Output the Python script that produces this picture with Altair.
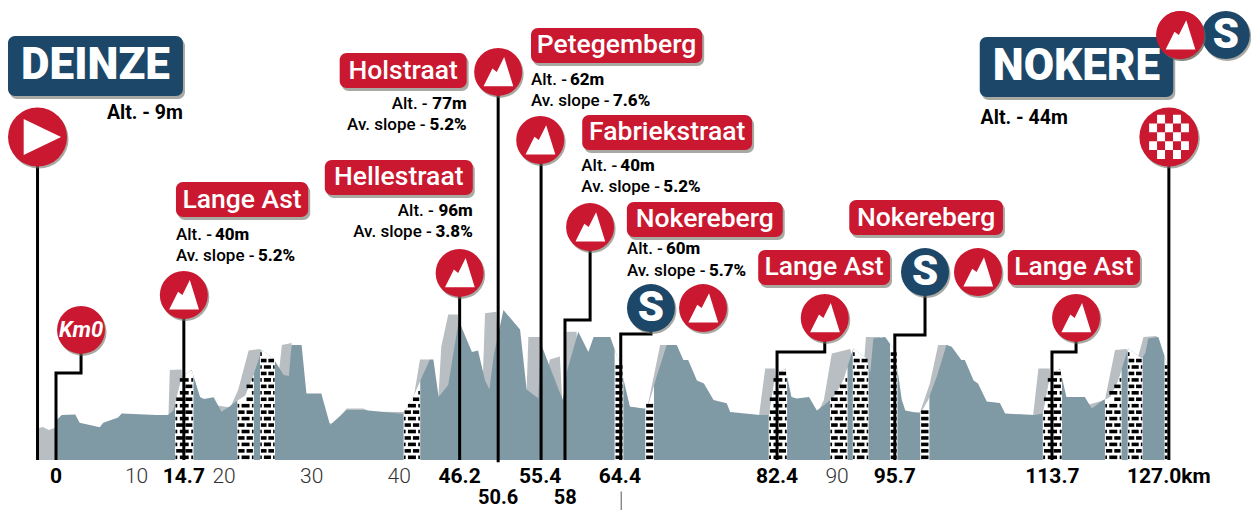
import altair as alt
import numpy as np
import pandas as pd

RED = "#c9182f"
NAVY = "#1c4768"
STEEL = "#7f99a5"
PALE = "#b8bec1"
FONT = "Roboto"

# ---- elevation profile (km, metres)
main_km = [0.08,0.65,2.2,2.7,5.0,5.4,7.1,7.5,11.5,12.8,13.4,14.35,15.5,16.45,16.9,18,18.9,19.9,20.8,21.6,22.5,23.5,24.8,26,26.6,26.9,28.05,28.6,30.3,31.3,33.2,35.1,39.7,41.0,42.7,43.1,43.7,44.8,46,47.5,48.2,49,49.5,50,51.1,53,53.75,55.1,55.35,57.4,57.9,58.4,59.65,60.8,61.4,63.3,64.4,65.55,67.5,68.6,69.75,70.9,71.65,72.2,73.2,74,75.1,76.6,77,80.4,81.4,82.1,83.3,84,84.6,86,86.9,88,88.8,89.9,91.05,92.6,93,93.35,94.7,95.8,96.6,97,98.7,99.6,100.6,101.7,102.3,103.4,103.8,104.8,105.3,106.3,107.8,108.4,111.8,112.7,113.5,114.65,115.4,117.5,118.3,119.6,120.4,121.3,122.45,124,124.4,124.75,125.9,127]
main_alt = [26.7,30,30.4,24.9,21.8,24.9,28.4,31,30,30,33,55.6,60,42,40.7,41.8,32.2,36,40,43,55.6,73.3,67.8,56.7,56,76.7,76.7,44.4,44.4,23.3,33.3,33.3,30.7,45,67,67,42,50,93,72,73,53,47,70,100,87,47,41,78,47,40,60,85.5,72,82,82,64,35.5,34,55.6,76.7,76.7,66.7,66.7,53,51,40,37.8,32,30,30,55.6,61,42,41,42,33,37.8,42,53,74.4,67.8,58,81,82,73,40,33,31,40,55.6,76.7,75.5,66.7,66.7,53,51,39,38,31,30,31,55.6,61,42,42,34.4,40,42,53,74.4,67.8,71,81,82,62.2]
pale_km = [-2.2,-1.5,-0.8,0.1,12.6,12.85,13,14.35,14.5,19.9,20.8,22,23.3,25.4,25.8,26.9,27.1,31.7,33.2,35.1,35.9,39.7,40.8,41.57,42.7,43.1,43.7,44,44.8,45.9,46.3,48.6,49,50.3,50.7,53.75,53.95,55.3,55.5,56.4,57.55,57.9,58.3,59.45,59.8,67.5,69,70.15,70.5,80.3,81,82.1,82.3,86.9,87.7,88.6,90.7,91.8,92.1,92.5,94.1,94.5,98.7,99.8,100.75,101.9,102.1,111.6,112.2,113.5,113.7,119.8,120.95,122.3,123,123.6,124.2,125.7,126.1,127]
pale_alt = [21,22,20,22,22,31,60,60.4,40,35,46.7,73,74,55.6,76.7,78,30,24,34.4,34.4,32.2,32,40,67,67,30,44,75.5,97,97,40,30,97.8,98.9,40,46,82,82,40,67,69,30,85.5,85.5,40,34,76.7,76.7,30,30,61,61,40,30,40,71,74,50,50,82,82,30,32,51,76.7,76.7,30,30,61,61,30,40,73.3,74,40,69,82,82.7,30,30]

# ---- cobbled sectors (km from, km to)
cobble_from = [13.6,20.7,23.3,39.7,63.8,67.3,81.4,88.4,91.0,95.25,98.7,112.7,119.8,122.4,126.6]
cobble_to   = [15.7,22.6,25.0,41.6,64.8,68.3,83.5,90.4,92.8,96.1,99.75,114.9,121.7,124.1,127.0]

# ---- km markers
bold_ticks = ["0","14.7","46.2","55.4","64.4","82.4","95.7","113.7","127.0km"]
bold_km = [0,14.6,46.1,55.3,64.4,82.35,95.8,113.8,127.1]
low_ticks = ["50.6","58"]
low_km = [50.5,58.15]
thin_ticks = ["10","20","30","40","90"]
thin_km = [10,20,30,40,90]

# ---- name plates
plate_names = ["Lange Ast","Holstraat","Petegemberg","Hellestraat","Fabriekstraat","Nokereberg","Lange Ast","Nokereberg","Lange Ast"]
plate_km1 = [13.7,32.4,54.25,30.7,60.1,65.2,80.2,90.6,108.7]
plate_km2 = [28.8,46.9,73.8,47.6,79.5,83,95.25,108.15,123.8]
plate_top = [185.3,271.3,288,200,230,172,140,173.3,140]
plate_bot = [162,248,264.7,176.7,206.7,148.7,116.7,150,116.7]
town_names = ["DEINZE","NOKERE"]
town_km1 = [-5.48,105.5]
town_km2 = [14.5,127.6]
town_top = [282.7,282]
town_bot = [242.7,242]

# ---- climb notes (label, value)
left_alt_values = ["40m","62m","40m","60m"]
left_slope_values = ["5.2%","7.6%","5.2%","5.7%"]
left_km = [13.7,54.25,60,65.2]
left_alt_y = [150,253.3,196,140.7]
left_slope_y = [136,239.3,182,126]
right_alt_values = ["77m","96m"]
right_slope_values = ["5.2%","3.8%"]
right_km = [46.9,47.6]
right_alt_y = [237.3,166]
right_slope_y = [223.3,152]
town_alt_text = ["Alt. - 9m","Alt. - 44m"]
town_alt_km = [5.82,105.6]
town_alt_alt = [231.3,228]

# ---- badges
mount_km = [14.6,46.1,50.5,55.3,61,73.9,87.8,105.3,116.5,128.4]
mount_alt = [110,124.7,258.7,213.3,155.3,101.3,94.7,125.3,94.7,283.3]
sprint_km = [67.95,99.25,133.6]
sprint_alt = [101.3,125.3,283.3]
km0_km = [2.86]
km0_alt = [86.7]
start_km = [-2.11]
start_alt = [215.3]
finish_km = [127.1]
finish_alt = [215.3]

# ---- connectors
connectors = [
    [(-2.11,0),(-2.11,215.3)],
    [(0,0),(0,58),(2.86,58),(2.86,86.7)],
    [(14.6,0),(14.6,110)],
    [(46.1,0),(46.1,124.7)],
    [(50.5,-1.5),(50.5,258.7)],
    [(55.4,0),(55.4,213.3)],
    [(58.13,0),(58.13,93.3),(61,93.3),(61,155.3)],
    [(64.5,0),(64.5,84),(67.95,84),(67.95,101.3)],
    [(82.35,0),(82.35,72),(87.8,72),(87.8,94.7)],
    [(95.8,0),(95.8,83.3),(99.25,83.3),(99.25,125.3)],
    [(113.75,0),(113.75,72),(116.5,72),(116.5,94.7)],
    [(127.1,0),(127.1,215.3)],
]

XS = alt.Scale(domain=[-5.482, 136.48], nice=False, zero=False)
YS = alt.Scale(domain=[-33.33, 301.33], nice=False, zero=False)
xq = alt.X("x:Q", scale=XS, axis=None)
yq = alt.Y("y:Q", scale=YS, axis=None)

def points(xs, ys, **extra):
    d = {"x": list(xs), "y": list(ys)}
    d.update(extra)
    return pd.DataFrame(d)

def area_layer(xs, ys, color):
    df = points(xs, ys)
    return alt.Chart(df).mark_area(fill=color, line=False, interpolate="linear", opacity=1, orient="vertical").encode(x=xq, y=alt.Y("y:Q", scale=YS, axis=None, stack=None))

layers = [area_layer(pale_km, pale_alt, PALE), area_layer(main_km, main_alt, STEEL)]

# cobbled sectors: white strip under the main profile with brick courses
white_rows, brick_rows = [], []
COURSE = 4.3
for s, (a, b) in enumerate(zip(cobble_from, cobble_to)):
    xs = np.linspace(a, b, 14)
    ys = np.interp(xs, main_km, main_alt)
    for x_, y_ in zip(xs, ys):
        white_rows.append({"x": float(x_), "y": float(y_), "s": s})
    w = b - a
    for r in range(0, 20):
        lo, hi = r*COURSE + 0.6, r*COURSE + 3.0
        if w < 1.2:
            spans = [(a+0.1*w, a+0.9*w)]
        elif r % 2 == 0:
            spans = [(a+0.02*w, a+0.12*w), (a+0.26*w, a+0.74*w), (a+0.88*w, a+0.98*w)]
        else:
            spans = [(a+0.06*w, a+0.44*w), (a+0.56*w, a+0.94*w)]
        for p, q in spans:
            if hi <= float(np.interp((p+q)/2, main_km, main_alt)):
                brick_rows.append({"x": p, "x2": q, "y": lo, "y2": hi})
layers.append(alt.Chart(pd.DataFrame(white_rows)).mark_area(fill="white", line=False, opacity=1, orient="vertical").encode(x=xq, y=alt.Y("y:Q", scale=YS, axis=None, stack=None), detail="s:N"))
layers.append(alt.Chart(pd.DataFrame(brick_rows)).mark_rect(color="black").encode(xq, x2="x2:Q", y=yq, y2="y2:Q"))

# connectors
line_rows = []
for c, pts in enumerate(connectors):
    for i, (x_, y_) in enumerate(pts):
        line_rows.append({"x": x_, "y": y_, "c": c, "i": i})
layers.append(alt.Chart(pd.DataFrame(line_rows)).mark_line(color="black", strokeWidth=3, strokeJoin="miter", strokeCap="butt").encode(xq, yq, detail="c:N", order=alt.Order("i:Q")))
layers.append(alt.Chart(points([64.55], [-21], y2=[-33.33])).mark_rule(color="#555555", strokeWidth=1).encode(xq, yq, y2="y2:Q"))

def circles(xs, ys, color, dia):
    df = points(xs, ys)
    size = dia*dia
    return [
        alt.Chart(df).mark_point(filled=True, shape="circle", size=size, color="#6f6f66", opacity=0.6, xOffset=1.5, yOffset=2).encode(xq, yq),
        alt.Chart(df).mark_point(filled=True, shape="circle", size=size, color=color, opacity=1).encode(xq, yq),
    ]

def glyph(xs, ys, path, dia):
    return alt.Chart(points(xs, ys)).mark_point(filled=True, shape=path, size=dia*dia, color="white", opacity=1).encode(xq, yq)

MOUNT = "M-0.61,0.6L-0.24,-0.14L-0.06,0.0L0.25,-0.62L0.63,0.6Z"
ARROW = "M-0.47,-0.61L0.8,0L-0.47,0.61Z"
cells = []
for i in range(5):
    for j in range(5):
        if (i + j) % 2 == 1:
            x0, y0 = -0.67 + j*0.27, -0.76 + i*0.3
            cells.append(f"M{x0:.2f},{y0:.2f}h0.27v0.3h-0.27Z")
CHECK = "".join(cells)

layers += circles(km0_km, km0_alt, RED, 48)
layers += circles(mount_km, mount_alt, RED, 48)
layers += circles(sprint_km, sprint_alt, NAVY, 48)
layers += circles(start_km, start_alt, RED, 59)
layers += circles(finish_km, finish_alt, RED, 59)
layers.append(glyph(mount_km, mount_alt, MOUNT, 48))
layers.append(glyph(start_km, start_alt, ARROW, 59))
layers.append(glyph(finish_km, finish_alt, CHECK, 59))

def text_layer(xs, ys, labels, **mark):
    df = points(xs, ys, t=labels)
    base = dict(font=FONT, baseline="middle", align="center", color="black")
    base.update(mark)
    return alt.Chart(df).mark_text(**base).encode(xq, yq, text="t:N")

layers.append(text_layer(sprint_km, sprint_alt, ["S"]*len(sprint_km), fontSize=42, fontWeight=900, color="white"))
layers.append(text_layer(km0_km, km0_alt, ["Km0"], fontSize=22, fontWeight=700, fontStyle="italic", color="white"))

# plates
def plates(k1, k2, top, bot, color):
    df = pd.DataFrame({"x": k1, "x2": k2, "y": top, "y2": bot})
    return [
        alt.Chart(df).mark_rect(color="#6f6f66", opacity=0.6, cornerRadius=7, xOffset=2, x2Offset=2, yOffset=3, y2Offset=3).encode(xq, x2="x2:Q", y=yq, y2="y2:Q"),
        alt.Chart(df).mark_rect(color=color, opacity=1, cornerRadius=7).encode(xq, x2="x2:Q", y=yq, y2="y2:Q"),
    ]

layers += plates(plate_km1, plate_km2, plate_top, plate_bot, RED)
layers += plates(town_km1, town_km2, town_top, town_bot, NAVY)
# the badge beside NOKERE lies above its plate
layers += circles(mount_km[-1:], mount_alt[-1:], RED, 48)
layers.append(glyph(mount_km[-1:], mount_alt[-1:], MOUNT, 48))

plate_cx = [(a+b)/2 for a, b in zip(plate_km1, plate_km2)]
plate_cy = [(a+b)/2 for a, b in zip(plate_top, plate_bot)]
layers.append(text_layer(plate_cx, plate_cy, plate_names, fontSize=26.5, fontWeight=500, color="white"))
town_cx = [(a+b)/2 for a, b in zip(town_km1, town_km2)]
town_cy = [(a+b)/2 for a, b in zip(town_top, town_bot)]
layers.append(text_layer(town_cx, town_cy, town_names, fontSize=44, fontWeight=900, color="white"))

NOTE = dict(fontSize=17)
# left-anchored notes: the label first, then the value in heavier type
layers.append(text_layer(left_km, left_alt_y, ["Alt. - "]*4, align="left", fontWeight=500, **NOTE))
layers.append(text_layer(left_km, left_alt_y, left_alt_values, align="left", fontWeight=800, dx=39, **NOTE))
layers.append(text_layer(left_km, left_slope_y, ["Av. slope - "]*4, align="left", fontWeight=500, **NOTE))
layers.append(text_layer(left_km, left_slope_y, left_slope_values, align="left", fontWeight=800, dx=82, **NOTE))
# right-anchored notes: the value first, then the label before it
layers.append(text_layer(right_km, right_alt_y, right_alt_values, align="right", fontWeight=800, **NOTE))
layers.append(text_layer(right_km, right_alt_y, ["Alt. -"]*2, align="right", fontWeight=500, dx=-39, **NOTE))
layers.append(text_layer(right_km, right_slope_y, right_slope_values, align="right", fontWeight=800, **NOTE))
layers.append(text_layer(right_km, right_slope_y, ["Av. slope -"]*2, align="right", fontWeight=500, dx=-41, **NOTE))
layers.append(text_layer(town_alt_km, town_alt_alt, town_alt_text, align="left", fontSize=19.5, fontWeight=700))

layers.append(text_layer(bold_km, [-11.3]*len(bold_km), bold_ticks, fontSize=21, fontWeight=700))
layers.append(text_layer(low_km, [-25.3]*len(low_km), low_ticks, fontSize=20, fontWeight=700))
layers.append(text_layer(thin_km, [-11.3]*len(thin_km), thin_ticks, fontSize=21, fontWeight=300, color="#333333", dx=-7))

chart = alt.layer(*layers).properties(
    width=1243, height=502, padding=0,
    autosize=alt.AutoSizeParams(type="none", contains="padding"),
    background="white",
).configure_view(stroke=None)

chart.save("out.html", embed_options={"renderer": "svg", "actions": False})
